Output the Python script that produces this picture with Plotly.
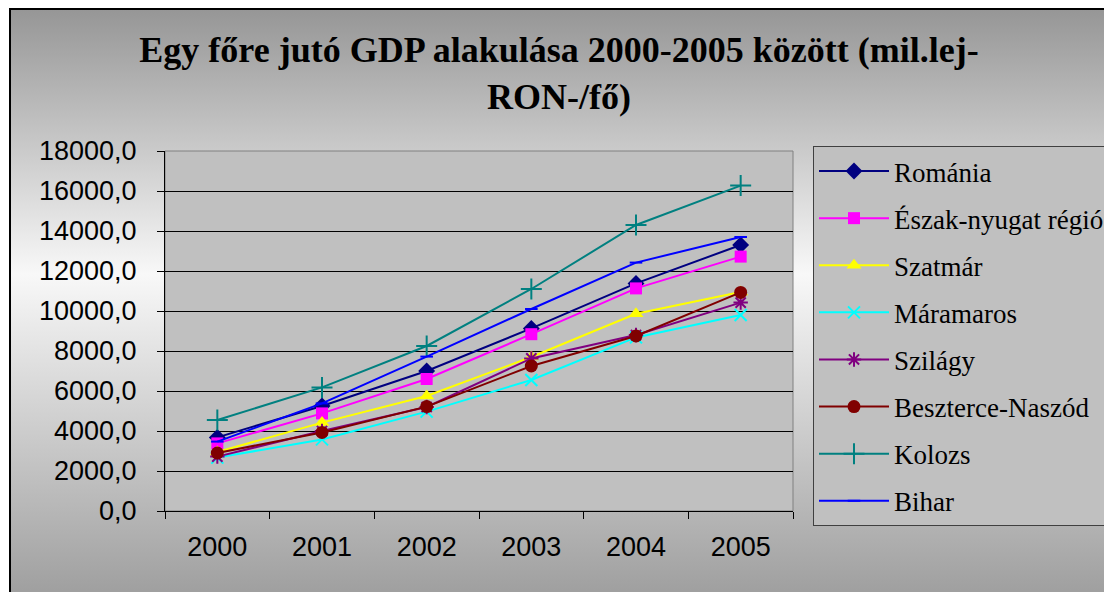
import base64
import plotly.graph_objects as go

years = ["2000", "2001", "2002", "2003", "2004", "2005"]
romania = [3680, 5250, 7000, 9130, 11380, 13300]
eszak_nyugat = [3380, 4880, 6600, 8840, 11130, 12720]
szatmar = [2950, 4420, 5750, 7700, 9860, 10950]
maramaros = [2670, 3580, 4970, 6550, 8680, 9800]
szilagy = [2720, 4000, 5200, 7630, 8800, 10420]
beszterce = [2900, 3930, 5220, 7250, 8750, 10930]
kolozs = [4550, 6180, 8250, 11100, 14300, 16270]
bihar = [3470, 5380, 7720, 10100, 12420, 13700]

series_names = ["Románia", "Észak-nyugat régió", "Szatmár", "Máramaros",
                "Szilágy", "Beszterce-Naszód", "Kolozs", "Bihar"]
series_values = [romania, eszak_nyugat, szatmar, maramaros,
                 szilagy, beszterce, kolozs, bihar]
colors = ["#000080", "#FF00FF", "#FFFF00", "#00FFFF",
          "#800080", "#800000", "#008080", "#0000FF"]
symbols = ["diamond", "square", "triangle-up", "x-thin-open",
           "asterisk-open", "circle", "cross-thin-open", "line-ew-open"]
sizes = [13, 12, 13, 12, 12, 13, 15, 9]

# page offset of the figure (browser body margin)
O = 8
SW, SH = 1112, 592          # screen size
W, H = SW - O, SH - O       # figure size
L, R, T, B = 165, 793, 151, 511   # plot area, screen coords

fig = go.Figure()
for name, vals, c, s, sz in zip(series_names, series_values, colors, symbols, sizes):
    open_sym = s.endswith("-open")
    fig.add_trace(go.Scatter(
        x=years, y=vals, name=name, mode="lines+markers",
        legendgroup=name,
        line=dict(color=c, width=2),
        marker=dict(symbol=s, size=sz, color=c,
                    line=dict(color=c, width=2) if open_sym else dict(width=0)),
    ))

svg = ('<svg xmlns="http://www.w3.org/2000/svg" width="100" height="100" preserveAspectRatio="none">'
       '<defs><linearGradient id="g" x1="0" y1="0" x2="0" y2="1">'
       '<stop offset="0" stop-color="#969696"/>'
       '<stop offset="0.44" stop-color="#f8f8f8"/>'
       '<stop offset="1" stop-color="#9a9a9a"/>'
       '</linearGradient></defs>'
       '<rect width="100" height="100" fill="url(#g)"/></svg>')
src = "data:image/svg+xml;base64," + base64.b64encode(svg.encode()).decode()

pw, ph = R - L, B - T
def px(x):
    return (x - L) / pw
def py(y):
    return (B - y) / ph

fig.add_layout_image(dict(
    source=src, xref="paper", yref="paper",
    x=px(10), y=py(9), sizex=px(SW + 20) - px(10), sizey=py(9) - py(SH + 20),
    xanchor="left", yanchor="top", sizing="stretch", layer="below"))

fig.add_shape(type="rect", xref="paper", yref="paper", x0=0, x1=1, y0=0, y1=1,
              fillcolor="#C0C0C0", line=dict(color="#808080", width=1), layer="below")
fig.add_shape(type="rect", xref="paper", yref="paper",
              x0=px(10), x1=px(SW + 20), y0=py(9), y1=py(SH + 20),
              line=dict(color="#000000", width=2), fillcolor="rgba(0,0,0,0)", layer="above")

fig.update_layout(
    width=W, height=H,
    margin=dict(l=L - O, r=SW - R, t=T - O, b=SH - B, autoexpand=False),
    paper_bgcolor="#FFFFFF",
    plot_bgcolor="#C0C0C0",
    separators=", ",
    title=dict(
        text="Egy főre jutó GDP alakulása 2000-2005 között (mil.lej-<br>RON-/fő)",
        x=(559 - O) / W, xanchor="center", y=1 - 54 / H, yanchor="top",
        font=dict(family="Liberation Serif", size=36, color="#000000", weight="bold"),
    ),
    legend=dict(
        x=px(813), y=py(146), xanchor="left", yanchor="top",
        bgcolor="#C0C0C0", bordercolor="#404040", borderwidth=1,
        font=dict(family="Liberation Serif", size=27, color="#000000"),
        tracegroupgap=9, itemwidth=70, maxheight=420,
    ),
    showlegend=True,
)
fig.update_xaxes(
    type="category", tickson="boundaries", ticks="outside", ticklen=7,
    tickcolor="#000000", showline=True, linecolor="#000000", linewidth=1,
    showgrid=False, range=[-0.5, 5.5],
    tickfont=dict(family="Liberation Sans", size=27, color="#000000"),
    ticklabelstandoff=12,
)
fig.update_yaxes(
    range=[0, 18000], dtick=2000, tick0=0, tickformat=".1f",
    ticks="outside", ticklen=7, tickcolor="#000000",
    showline=True, linecolor="#000000", linewidth=1,
    showgrid=True, gridcolor="#000000", gridwidth=1, zeroline=False,
    tickfont=dict(family="Liberation Sans", size=27, color="#000000"),
    ticklabelstandoff=15,
)

fig.write_html("out.html")
